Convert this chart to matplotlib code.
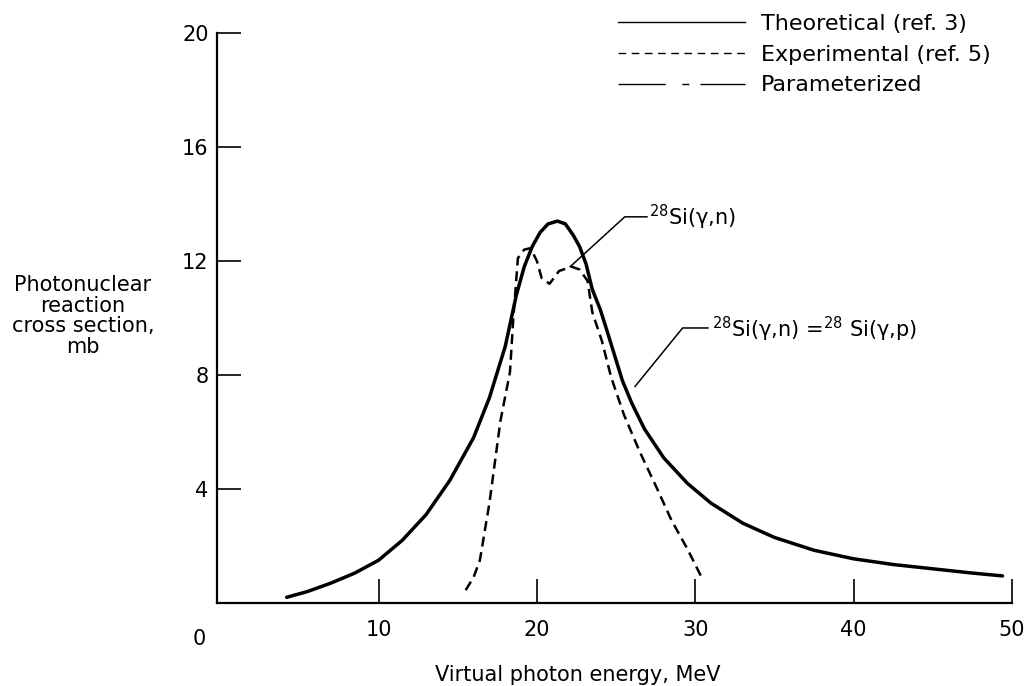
import matplotlib
matplotlib.use("Agg")
import matplotlib.pyplot as plt
from matplotlib.lines import Line2D

plt.rcParams['font.family'] = ['DejaVu Sans']

# theoretical curve (ref. 3)
theo_energy = [4.2, 5.5, 7.0, 8.5, 10.0, 11.5, 13.0, 14.5, 16.0, 17.0, 18.0, 18.7,
               19.2, 19.7, 20.2, 20.7, 21.3, 21.8, 22.3, 22.7, 23.1, 23.5, 24.0,
               24.4, 24.9, 25.4, 26.0, 26.8, 28.0, 29.5, 31.0, 33.0, 35.0, 37.5,
               40.0, 42.5, 45.0, 47.5, 49.4]
theo_xsec = [0.2, 0.4, 0.7, 1.05, 1.5, 2.2, 3.1, 4.3, 5.8, 7.2, 9.0, 10.8,
             11.8, 12.5, 13.0, 13.3, 13.4, 13.3, 12.9, 12.5, 11.9, 11.0, 10.3,
             9.6, 8.7, 7.8, 7.0, 6.1, 5.1, 4.2, 3.5, 2.8, 2.3, 1.85,
             1.55, 1.35, 1.2, 1.05, 0.95]

# experimental curve (ref. 5)
exp_energy = [15.5, 16.0, 16.4, 17.0, 17.7, 18.3, 18.5, 18.8, 19.2, 19.6, 20.0,
              20.3, 20.8, 21.4, 22.2, 22.7, 23.2, 23.5, 24.1, 24.7, 25.5, 26.5,
              27.6, 28.5, 29.5, 30.4]
exp_xsec = [0.45, 0.9, 1.5, 3.5, 6.4, 8.1, 9.9, 12.1, 12.4, 12.45, 12.0,
            11.4, 11.2, 11.65, 11.8, 11.7, 11.3, 10.2, 9.2, 7.9, 6.6, 5.3,
            4.0, 2.9, 1.9, 0.9]

x_ticks = [10, 20, 30, 40, 50]
y_ticks = [4, 8, 12, 16, 20]

legend_labels = ["Theoretical (ref. 3)", "Experimental (ref. 5)", "Parameterized"]

fig = plt.figure(figsize=(10.26, 6.86), dpi=100)
ax = fig.add_axes([217 / 1026, 1 - 603 / 686, (1012 - 217) / 1026, (603 - 33) / 686])

ax.plot(theo_energy, theo_xsec, color="black", lw=2.5, solid_capstyle="round")
ax.plot(exp_energy, exp_xsec, color="black", lw=1.8, dashes=(4, 2.3))

ax.set_xlim(-0.2, 50)
ax.set_ylim(0, 20)
ax.set_xticks(x_ticks)
ax.set_yticks(y_ticks)
ax.tick_params(direction="in", length=17, width=1.2, labelsize=15)
ax.tick_params(axis="x", pad=12)
ax.tick_params(axis="y", pad=6)
for side in ["top", "right"]:
    ax.spines[side].set_visible(False)
for side in ["left", "bottom"]:
    ax.spines[side].set_linewidth(1.6)

# the "0" sits left of the origin
ax.text(-1.3, -0.9, "0", fontsize=15, ha="center", va="top")

fig.text(83 / 1026, 1 - 316 / 686, "Photonuclear\nreaction\ncross section,\nmb",
         ha="center", va="center", multialignment="center", fontsize=15, linespacing=1.05)
fig.text(578 / 1026, 1 - 675 / 686, "Virtual photon energy, MeV",
         ha="center", va="center", fontsize=15)

# leader lines and reaction labels
ax.plot([22.1, 25.55, 26.95], [11.8, 13.55, 13.55], color="black", lw=1.1)
ax.text(27.1, 13.25, "$^{28}$Si(γ,n)", fontsize=15, ha="left", va="baseline")
ax.plot([26.2, 29.2, 30.8], [7.6, 9.65, 9.65], color="black", lw=1.1)
ax.text(31.05, 9.33, "$^{28}$Si(γ,n) =$^{28}$ Si(γ,p)", fontsize=15, ha="left", va="baseline")

handles = [
    Line2D([], [], color="black", lw=1.0),
    Line2D([], [], color="black", lw=1.0, dashes=(5.5, 4)),
    Line2D([], [], color="black", lw=1.0, dashes=(34, 12, 5, 8)),
]
ax.legend(handles, legend_labels, loc="upper left",
          bbox_to_anchor=(618 / 1026, 1 - 14 / 686), bbox_transform=fig.transFigure,
          frameon=False, handlelength=5.7, handletextpad=0.72, labelspacing=0.48,
          borderpad=0, borderaxespad=0, fontsize=16)

fig.savefig("out.png", dpi=100)
